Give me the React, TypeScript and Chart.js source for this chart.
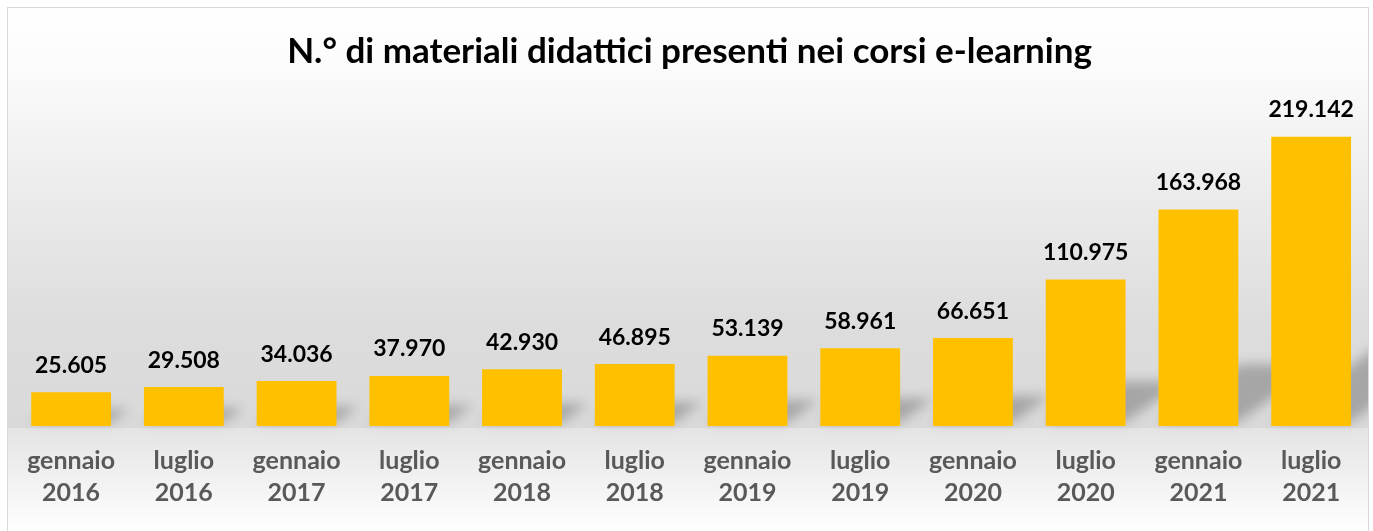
import React, { useEffect, useRef } from "react";
import { Chart, registerables } from "chart.js";

Chart.register(...registerables);

const months = ["gennaio", "luglio", "gennaio", "luglio", "gennaio", "luglio", "gennaio", "luglio", "gennaio", "luglio", "gennaio", "luglio"];
const years = ["2016", "2016", "2017", "2017", "2018", "2018", "2019", "2019", "2020", "2020", "2021", "2021"];
const values = [25605, 29508, 34036, 37970, 42930, 46895, 53139, 58961, 66651, 110975, 163968, 219142];
const titleText = "N.° di materiali didattici presenti nei corsi e-learning";

const FONT = "Lato, 'Noto Sans', sans-serif";

function fmt(v: number): string {
  return String(v).replace(/\B(?=(\d{3})+(?!\d))/g, ".");
}

const bgPlugin = {
  id: "bgGrad",
  beforeDraw(chart: any) {
    const { ctx, width, height, chartArea } = chart;
    const floor = chartArea.bottom;
    ctx.save();
    const g = ctx.createLinearGradient(0, 0, 0, floor);
    g.addColorStop(0, "#ffffff");
    g.addColorStop(0.15, "#fbfbfb");
    g.addColorStop(0.45, "#ebebeb");
    g.addColorStop(0.75, "#dddddd");
    g.addColorStop(1, "#d9d9d9");
    ctx.fillStyle = g;
    ctx.fillRect(0, 0, width, floor + 2);
    const g2 = ctx.createLinearGradient(0, floor + 2, 0, height);
    g2.addColorStop(0, "#e4e4e4");
    g2.addColorStop(0.6, "#f4f4f4");
    g2.addColorStop(1, "#ffffff");
    ctx.fillStyle = g2;
    ctx.fillRect(0, floor + 2, width, height - floor - 2);
    ctx.restore();
  },
};

const shadowPlugin = {
  id: "barShadow",
  beforeDatasetsDraw(chart: any) {
    const { ctx } = chart;
    const meta = chart.getDatasetMeta(0);
    ctx.save();
    ctx.filter = "blur(6px)";
    ctx.fillStyle = "rgba(0,0,0,0.24)";
    meta.data.forEach((el: any) => {
      const p = el.getProps(["x", "y", "base", "width"], true);
      const left = p.x - p.width / 2;
      const right = p.x + p.width / 2;
      const bottom = p.base - 4;
      const h = p.base - p.y;
      const dx = 0.35 * h + 6;
      const dy = 0.25 * h + 4;
      ctx.beginPath();
      ctx.moveTo(left, bottom);
      ctx.lineTo(right, bottom);
      ctx.lineTo(right + dx, bottom - dy);
      ctx.lineTo(left + dx, bottom - dy);
      ctx.closePath();
      ctx.fill();
    });
    ctx.restore();
  },
};

const labelPlugin = {
  id: "valueLabels",
  afterDatasetsDraw(chart: any) {
    const { ctx } = chart;
    const meta = chart.getDatasetMeta(0);
    const data = chart.data.datasets[0].data as number[];
    ctx.save();
    ctx.font = `bold 23px ${FONT}`;
    ctx.fillStyle = "#000000";
    ctx.textAlign = "center";
    ctx.textBaseline = "alphabetic";
    meta.data.forEach((el: any, i: number) => {
      const p = el.getProps(["x", "y"], true);
      ctx.fillText(fmt(data[i]), p.x, p.y - 19.5);
    });
    ctx.restore();
  },
};

export default function App() {
  const ref = useRef<HTMLCanvasElement | null>(null);
  useEffect(() => {
    if (!ref.current) return;
    const chart = new Chart(ref.current, {
      type: "bar",
      data: {
        labels: months.map((m, i) => [m, years[i]]),
        datasets: [
          {
            data: values,
            backgroundColor: "#FFC000",
            borderWidth: 0,
            categoryPercentage: 1,
            barPercentage: 0.708,
          },
        ],
      },
      options: {
        animation: false,
        responsive: true,
        maintainAspectRatio: false,
        layout: { padding: { left: 3.5, right: 0.5, top: 0, bottom: 4 } },
        plugins: {
          legend: { display: false },
          tooltip: { enabled: false },
          title: {
            display: true,
            text: titleText,
            color: "#000000",
            font: { family: FONT, size: 35, weight: "bold", lineHeight: 1.2 },
            padding: { top: 23, bottom: 23 },
          },
        },
        scales: {
          x: {
            grid: { display: false, drawTicks: false },
            border: { display: false },
            ticks: {
              color: "#595959",
              font: { family: FONT, size: 25, weight: "bold", lineHeight: 32 / 25 },
              padding: 19,
              maxRotation: 0,
              autoSkip: false,
            },
          },
          y: {
            display: false,
            min: 0,
            max: 250000,
          },
        },
      },
      plugins: [bgPlugin, shadowPlugin, labelPlugin],
    });
    return () => chart.destroy();
  }, []);

  return (
    <div
      style={{
        position: "absolute",
        left: 7,
        top: 7,
        width: 1360,
        height: 524,
        border: "1px solid #d9d9d9",
        background: "#ffffff",
      }}
    >
      <div style={{ position: "relative", width: 1360, height: 524 }}>
        <canvas ref={ref} />
      </div>
    </div>
  );
}
